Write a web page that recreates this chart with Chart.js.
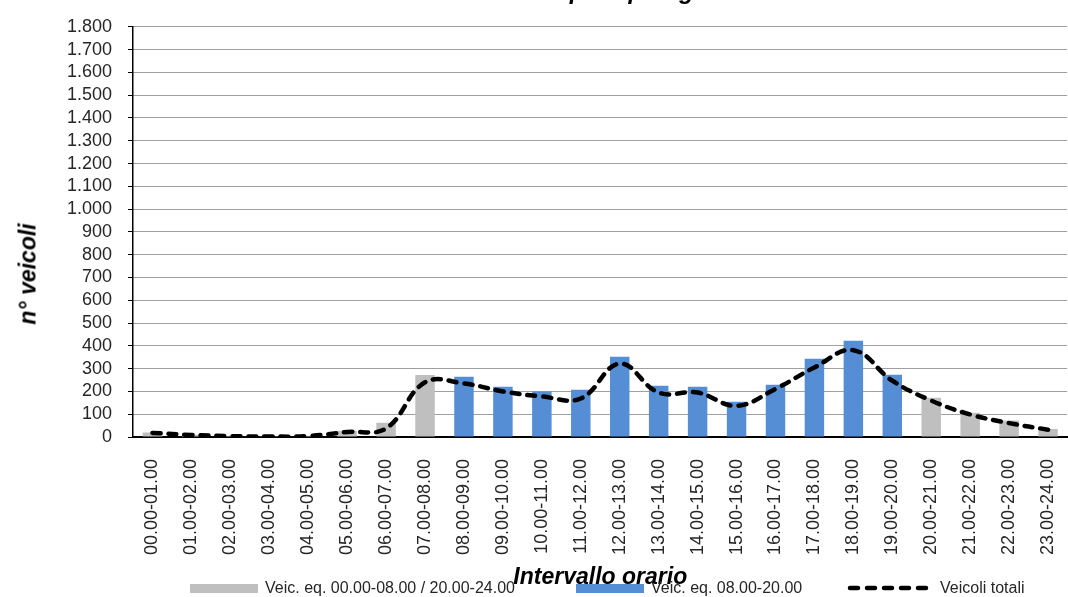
<!DOCTYPE html>
<html lang="it">
<head>
<meta charset="utf-8">
<title>Veicoli per tipologia</title>
<script src="https://cdn.jsdelivr.net/npm/chart.js@4.4.1/dist/chart.umd.min.js"></script>
<style>
  html, body { margin: 0; padding: 0; background: #fff; overflow: hidden; }
  body { font-family: 'Liberation Sans', Arial, sans-serif; color: #262626; }
  #wrap { position: relative; width: 1068px; height: 597px; overflow: hidden; }
  #box { position: absolute; left: 0; top: 0; width: 1084px; height: 600px; }
  .y-title {
    position: absolute; left: 28px; top: 274px;
    transform: translate(-50%, -50%) rotate(-90deg);
    font: italic bold 23px 'Liberation Sans', Arial, sans-serif;
    color: #000; white-space: nowrap;
  }
  .leg { position: absolute; top: 579px; height: 18px; display: flex; align-items: center;
         font-size: 16px; white-space: nowrap; }
  .leg .sw { width: 68px; height: 9px; margin-right: 7px; }
  .leg svg { margin-right: 8px; }
</style>
</head>
<body>
<div id="wrap">
  <div id="box"><canvas id="chart"></canvas></div>
  <div class="y-title">n° veicoli</div>
  <div class="leg" style="left:190px"><span class="sw" style="background:#BFBFBF"></span>Veic. eq. 00.00-08.00 / 20.00-24.00</div>
  <div class="leg" style="left:576px"><span class="sw" style="background:#558ED5"></span>Veic. eq. 08.00-20.00</div>
  <div class="leg" style="left:846px">
    <svg width="86" height="10"><line x1="4" y1="5" x2="82" y2="5" stroke="#000" stroke-width="4.5" stroke-linecap="round" stroke-dasharray="8 9"/></svg>Veicoli totali
  </div>
</div>
<script>
// hourly intervals (x axis)
const hours = [
  '00.00-01.00', '01.00-02.00', '02.00-03.00', '03.00-04.00', '04.00-05.00', '05.00-06.00',
  '06.00-07.00', '07.00-08.00', '08.00-09.00', '09.00-10.00', '10.00-11.00', '11.00-12.00',
  '12.00-13.00', '13.00-14.00', '14.00-15.00', '15.00-16.00', '16.00-17.00', '17.00-18.00',
  '18.00-19.00', '19.00-20.00', '20.00-21.00', '21.00-22.00', '22.00-23.00', '23.00-24.00'
];

// equivalent vehicles, night / evening slots (grey bars)
const eqNight = [20, 10, 5, 3, 5, 27, 62, 272, null, null, null, null,
  null, null, null, null, null, null, null, null, 172, 106, 72, 35];

// equivalent vehicles, 08-20 slots (blue bars)
const eqDay = [null, null, null, null, null, null, null, null, 264, 220, 200, 207,
  352, 225, 220, 155, 229, 343, 422, 273, null, null, null, null];

// total vehicles (dashed line)
const totals = [18, 9, 4, 2, 4, 22, 38, 240, 235, 200, 178, 169,
  322, 195, 195, 137, 211, 305, 381, 247, 160, 99, 61, 32];

const yMax = 1800;
const yStep = 100;

const FONT = "'Liberation Sans', Arial, sans-serif";
Chart.defaults.font.family = FONT;
Chart.defaults.color = '#262626';

// 1.800 style thousands separator
const fmt = (v) => String(v).replace(/\B(?=(\d{3})+(?!\d))/g, '.');

new Chart(document.getElementById('chart'), {
  type: 'bar',
  data: {
    labels: hours,
    datasets: [
      {
        type: 'line',
        label: 'Veicoli totali',
        data: totals,
        borderColor: '#000',
        borderWidth: 4.5,
        borderDash: [8, 8],
        borderCapStyle: 'round',
        tension: 0.4,
        pointRadius: 0,
        fill: false
      },
      {
        label: 'Veic. eq. 00.00-08.00 / 20.00-24.00',
        data: eqNight,
        backgroundColor: '#BFBFBF',
        grouped: false,
        barPercentage: 0.5,
        categoryPercentage: 1
      },
      {
        label: 'Veic. eq. 08.00-20.00',
        data: eqDay,
        backgroundColor: '#558ED5',
        grouped: false,
        barPercentage: 0.5,
        categoryPercentage: 1
      }
    ]
  },
  options: {
    responsive: true,
    maintainAspectRatio: false,
    animation: false,
    layout: { padding: { left: 0, right: 0, top: 0, bottom: 3 } },
    plugins: {
      legend: { display: false },
      tooltip: { enabled: false },
      title: {
        display: true,
        fullSize: false,
        text: 'Veicoli per tipologia',
        color: '#000',
        font: { size: 24, weight: 'bold', style: 'italic' },
        padding: { top: -25, bottom: 20 }
      }
    },
    scales: {
      x: {
        grid: { display: false },
        border: { display: true, color: '#000', width: 2 },
        ticks: {
          autoSkip: false,
          minRotation: 90,
          maxRotation: 90,
          padding: 14,
          font: { size: 18 }
        },
        title: {
          display: true,
          text: 'Intervallo orario',
          color: '#000',
          font: { size: 23, weight: 'bold', style: 'italic' },
          padding: { top: 0, bottom: 6 }
        },
        afterFit: (scale) => { scale.height = 160; }
      },
      y: {
        min: 0,
        max: yMax,
        grid: {
          color: '#404040',
          lineWidth: 1,
          drawTicks: true,
          tickLength: 5,
          tickColor: '#000',
          tickBorderDash: []
        },
        border: { display: true, color: '#000', width: 1.5, dash: [1, 1] },
        ticks: {
          stepSize: yStep,
          autoSkip: false,
          padding: 16,
          font: { size: 18 },
          callback: (v) => fmt(v)
        },
        afterFit: (scale) => { scale.width = 133; }
      }
    }
  }
});
</script>
</body>
</html>
